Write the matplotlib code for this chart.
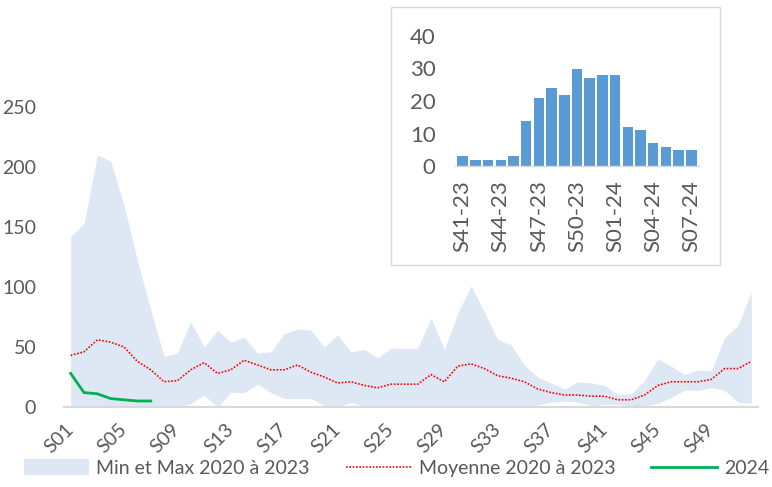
import matplotlib
matplotlib.use("Agg")
import matplotlib.pyplot as plt
from matplotlib.patches import Rectangle

plt.rcParams['font.family'] = ['Lato', 'DejaVu Sans']

# semaines S01..S52
weeks = list(range(1, 53))
week_labels = [f"S{w:02d}" for w in weeks]

band_max = [142, 153, 210, 205, 168, 122, 81, 42, 45, 71,
            50, 64, 54, 58, 45, 46, 61, 65, 64, 50,
            60, 46, 48, 41, 49, 49, 49, 74, 48, 78,
            101, 79, 56, 52, 35, 25, 20, 15, 21, 20,
            18, 10, 11, 22, 40, 34, 27, 31, 30, 58,
            68, 96]
band_min = [0, 0, 0, 0, 0, 0, 0, 0, 0, 3,
            10, 0, 12, 12, 19, 12, 7, 7, 7, 1,
            0, 4, 0, 0, 0, 0, 0, 1, 0, 1,
            1, 0, 0, 0, 0, 2, 4, 5, 4, 1,
            2, 2, 1, 1, 3, 8, 14, 14, 16, 14,
            4, 3]
moyenne = [43, 46, 56, 54, 50, 38, 31, 21, 22, 31,
           37, 28, 31, 39, 35, 31, 31, 35, 29, 25,
           20, 21, 18, 16, 19, 19, 19, 27, 21, 34,
           36, 32, 26, 24, 21, 15, 12, 10, 10, 9,
           9, 6, 6, 10, 18, 21, 21, 21, 23, 32,
           32, 38]
y2024 = [28, 12, 11, 7, 6, 5, 5]

inset_labels = ["S41-23", "S42-23", "S43-23", "S44-23", "S45-23", "S46-23",
                "S47-23", "S48-23", "S49-23", "S50-23", "S51-23", "S52-23",
                "S01-24", "S02-24", "S03-24", "S04-24", "S05-24", "S06-24",
                "S07-24"]
inset_values = [3, 2, 2, 2, 3, 14, 21, 24, 22, 30, 27, 28, 28, 12, 11, 7, 6, 5, 5]

txt = "#595959"

fig = plt.figure(figsize=(7.72, 4.87), dpi=100)
ax = fig.add_axes([64 / 772, 80 / 487, 694 / 772, 300 / 487])

ax.fill_between(weeks, band_min, band_max, color="#DEE8F4", lw=0,
                label="Min et Max 2020 à 2023")
ax.plot(weeks, moyenne, color="#FF0000", lw=1.2, ls=(0, (1, 1)),
        label="Moyenne 2020 à 2023")
ax.plot(weeks[:len(y2024)], y2024, color="#00B050", lw=2, label="2024")

ax.set_xlim(0.5, 52.5)
ax.set_ylim(0, 250)
ax.set_yticks([0, 50, 100, 150, 200, 250])
ax.set_xticks(weeks[::4])
ax.set_xticklabels(week_labels[::4], rotation=45, ha="right", va="center",
                   rotation_mode="anchor")
ax.tick_params(axis="both", length=0, colors=txt, labelsize=14)
ax.tick_params(axis="x", pad=14)
ax.tick_params(axis="y", pad=20)
for s in ["top", "right", "left"]:
    ax.spines[s].set_visible(False)
ax.spines["bottom"].set_color("#D9D9D9")
ax.spines["bottom"].set_linewidth(1.5)

fig.legend(loc="lower center", bbox_to_anchor=(0.5136, -0.015), ncol=3,
           frameon=False, fontsize=14, labelcolor=txt, handlelength=3.35,
           handleheight=0.85, columnspacing=1.85, handletextpad=0.4)

# encart
fig.patches.append(Rectangle((391 / 772, (487 - 265) / 487), 329 / 772, 258 / 487,
                             transform=fig.transFigure, facecolor="white",
                             edgecolor="#D9D9D9", lw=1, zorder=1))
iax = fig.add_axes([455 / 772, (487 - 166) / 487, 244 / 772, 130 / 487])
iax.set_zorder(5)
iax.patch.set_alpha(0)
ix = list(range(len(inset_values)))
iax.bar(ix, inset_values, width=0.82, color="#5B9BD5")
iax.set_xlim(-0.6, len(inset_values) - 0.4)
iax.set_ylim(0, 40)
iax.set_yticks([0, 10, 20, 30, 40])
iax.set_xticks(ix[::3])
iax.set_xticklabels(inset_labels[::3], rotation=90)
iax.tick_params(axis="both", length=0, colors=txt, labelsize=16)
iax.tick_params(axis="x", pad=10)
iax.tick_params(axis="y", pad=14)
for s in ["top", "right", "left"]:
    iax.spines[s].set_visible(False)
iax.spines["bottom"].set_color("#D9D9D9")
iax.spines["bottom"].set_linewidth(1)

fig.savefig("out.png", dpi=100)
